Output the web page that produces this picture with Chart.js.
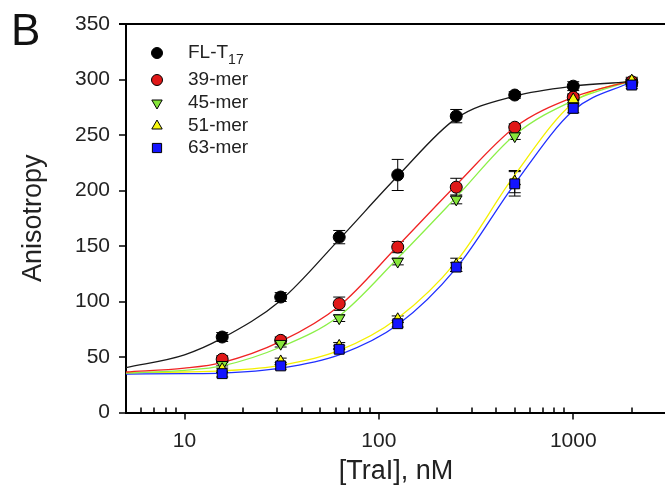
<!DOCTYPE html>
<html>
<head>
<meta charset="utf-8">
<script src="https://cdn.jsdelivr.net/npm/chart.js@4.4.1/dist/chart.umd.min.js"></script>
<style>
html, body { margin: 0; background: #fff; width: 665px; height: 495px; overflow: hidden; }
</style>
</head>
<body>
<!-- the plot frame runs past the right edge of the page -->
<canvas id="myChart" width="686" height="495"></canvas>
<script>
// TraI titration, anisotropy vs protein concentration (nM)
const concentrations = [15.625, 31.25, 62.5, 125, 250, 500, 1000, 2000];

const flT17    = [68, 104, 158, 214, 267, 286, 294, 297];
const flT17Err = [4, 4, 6, 14, 6, 3, 4, 3];
const mer39    = [48, 65, 98, 149, 203, 257, 284, 298];
const mer39Err = [3, 3, 6, 5, 8, 3, 3, 3];
const mer45    = [43, 62, 85, 136, 192, 249, 279, 297];
const mer45Err = [3, 3, 3, 3, 4, 3, 3, 3];
const mer51    = [39, 46, 60, 84, 133, 208, 282, 299];
const mer51Err = [3, 3, 3, 3, 6, 10, 4, 3];
const mer63    = [35, 42, 57, 80, 131, 206, 274, 295];
const mer63Err = [3, 3, 3, 3, 4, 11, 4, 3];

// fitted binding curves, read at these concentrations
const fitX      = [5, 10, 15.625, 31.25, 62.5, 125, 250, 500, 1000, 2000];
const flT17Fit  = [40.5, 52, 67, 101, 156, 213, 265, 285, 294, 298];
const mer39Fit  = [36.5, 40, 45, 64, 96, 150, 205, 257, 284, 299];
const mer45Fit  = [35.5, 38, 42, 59, 87, 139, 194, 250, 281, 299];
const mer51Fit  = [36, 36.5, 37.5, 42.5, 56, 85, 136, 214, 279, 300];
const mer63Fit  = [34.7, 35, 35.5, 40, 52, 79, 130, 206, 272, 298];

const seriesNames = ['FL-T_17', '39-mer', '45-mer', '51-mer', '63-mer'];

const xMajorTicks = [10, 100, 1000];
const xMinorTicks = [6, 7, 8, 9, 20, 30, 40, 50, 60, 70, 80, 90,
                     200, 300, 400, 500, 600, 700, 800, 900, 2000];

const FONT = "'Liberation Sans', Arial, sans-serif";
Chart.defaults.font.family = FONT;
Chart.defaults.color = '#222';

function pts(xs, ys) {
    return xs.map((x, i) => ({x: x, y: ys[i]}));
}

const markers = [
    {fill: '#000000', style: 'circle',   radius: 6,   rot: 0},
    {fill: '#e01818', style: 'circle',   radius: 6,   rot: 0},
    {fill: '#86e63a', style: 'triangle', radius: 6.5, rot: 180},
    {fill: '#f8f810', style: 'triangle', radius: 6.5, rot: 0},
    {fill: '#1414ff', style: 'rect',     radius: 7,   rot: 0},
];
const curveColors = ['#1a1a1a', '#f02424', '#8cf048', '#f4f000', '#2030ff'];

const values = [flT17, mer39, mer45, mer51, mer63];
const errors = [flT17Err, mer39Err, mer45Err, mer51Err, mer63Err];
const fits   = [flT17Fit, mer39Fit, mer45Fit, mer51Fit, mer63Fit];

var datasets = [];
fits.forEach(function(f, i) {
    datasets.push({
        label: seriesNames[i] + ' fit',
        data: pts(fitX, f),
        showLine: true,
        borderColor: curveColors[i],
        borderWidth: 1.3,
        pointRadius: 0,
        cubicInterpolationMode: 'monotone',
        order: 10 + i,
    });
});
values.forEach(function(v, i) {
    datasets.push({
        label: seriesNames[i],
        data: pts(concentrations, v),
        errors: errors[i],
        showLine: false,
        backgroundColor: markers[i].fill,
        borderColor: '#000',
        borderWidth: 1,
        pointStyle: markers[i].style,
        pointRotation: markers[i].rot,
        pointRadius: markers[i].radius,
        order: 4 - i,
        marker: markers[i],
    });
});

// error bars, tick marks, frame top, legend and panel letter
const decorations = {
    id: 'decorations',
    beforeDatasetsDraw(chart) {
        const ctx = chart.ctx, xs = chart.scales.x, ys = chart.scales.y;
        ctx.save();
        ctx.strokeStyle = '#000';
        ctx.lineWidth = 1;
        chart.data.datasets.forEach(function(ds) {
            if (!ds.errors) return;
            ds.data.forEach(function(p, j) {
                const px = xs.getPixelForValue(p.x);
                const lo = ys.getPixelForValue(p.y - ds.errors[j]);
                const hi = ys.getPixelForValue(p.y + ds.errors[j]);
                ctx.beginPath();
                ctx.moveTo(px, lo); ctx.lineTo(px, hi);
                ctx.moveTo(px - 6, lo); ctx.lineTo(px + 6, lo);
                ctx.moveTo(px - 6, hi); ctx.lineTo(px + 6, hi);
                ctx.stroke();
            });
        });
        ctx.restore();
    },
    afterDraw(chart) {
        const ctx = chart.ctx, a = chart.chartArea;
        const xs = chart.scales.x, ys = chart.scales.y;
        ctx.save();
        ctx.strokeStyle = '#000';
        ctx.lineWidth = 1.5;
        ctx.beginPath();
        xMajorTicks.forEach(function(v) {
            const px = Math.round(xs.getPixelForValue(v));
            ctx.moveTo(px, a.bottom); ctx.lineTo(px, a.bottom + 7);
        });
        xMinorTicks.forEach(function(v) {
            const px = Math.round(xs.getPixelForValue(v));
            ctx.moveTo(px, a.bottom); ctx.lineTo(px, a.bottom - 5);
        });
        ys.ticks.forEach(function(t) {
            const py = Math.round(ys.getPixelForValue(t.value));
            ctx.moveTo(a.left - 7, py); ctx.lineTo(a.left, py);
        });
        ctx.stroke();

        ctx.lineWidth = 2;
        ctx.beginPath();
        ctx.moveTo(a.left - 7, a.top); ctx.lineTo(a.right, a.top);
        ctx.stroke();

        // legend
        const rowY = [53, 80, 103, 126, 148];
        chart.data.datasets.filter(d => d.marker).forEach(function(ds, i) {
            const m = ds.marker;
            ctx.fillStyle = m.fill;
            ctx.strokeStyle = '#000';
            ctx.lineWidth = 1;
            Chart.helpers.drawPoint(ctx, {
                pointStyle: m.style, rotation: m.rot,
                radius: m.radius - 0.5, borderWidth: 1
            }, 157, rowY[i]);
            const parts = ds.label.split('_');
            ctx.fillStyle = '#222';
            ctx.textBaseline = 'middle';
            ctx.textAlign = 'left';
            ctx.font = '19px ' + FONT;
            ctx.fillText(parts[0], 188, rowY[i]);
            if (parts[1]) {
                const w = ctx.measureText(parts[0]).width;
                ctx.font = '14px ' + FONT;
                ctx.fillText(parts[1], 188 + w, rowY[i] + 7);
            }
        });

        ctx.fillStyle = '#111';
        ctx.font = '44px ' + FONT;
        ctx.textBaseline = 'alphabetic';
        ctx.fillText('B', 11, 45);
        ctx.restore();
    }
};

var graphData = {
    type: 'scatter',
    data: { datasets: datasets },
    options: {
        responsive: false,
        animation: false,
        layout: { padding: { top: 24, right: 20, bottom: 0, left: 0 } },
        plugins: {
            legend: { display: false },
            tooltip: { enabled: false },
        },
        scales: {
            x: {
                type: 'logarithmic',
                min: 5,
                max: 3000,
                grid: { display: false, drawTicks: false },
                border: { display: true, color: '#000', width: 2 },
                ticks: {
                    autoSkip: false,
                    maxRotation: 0,
                    padding: 16,
                    font: { size: 21 },
                    color: '#222',
                    callback: function(v) {
                        return xMajorTicks.includes(v) ? String(v) : '';
                    },
                },
                title: {
                    display: true,
                    text: '[TraI], nM',
                    font: { size: 27 },
                    color: '#222',
                    padding: { top: 0, bottom: 7 },
                },
                afterFit: function(scale) {
                    scale.height = 82.5;
                    scale.paddingLeft = 0;
                    scale.paddingRight = 0;
                },
            },
            y: {
                min: 0,
                max: 350,
                grid: { display: false, drawTicks: false },
                border: { display: true, color: '#000', width: 2 },
                ticks: {
                    stepSize: 50,
                    padding: 16,
                    font: { size: 21 },
                    color: '#222',
                },
                title: {
                    display: true,
                    text: 'Anisotropy',
                    font: { size: 27 },
                    color: '#222',
                    padding: { top: 17, bottom: 0 },
                },
                afterFit: function(scale) {
                    scale.width = 126;
                    scale.paddingTop = 0;
                    scale.paddingBottom = 0;
                },
            },
        },
    },
    plugins: [decorations],
};

var myChart = new Chart(document.getElementById('myChart'), graphData);
</script>
</body>
</html>
